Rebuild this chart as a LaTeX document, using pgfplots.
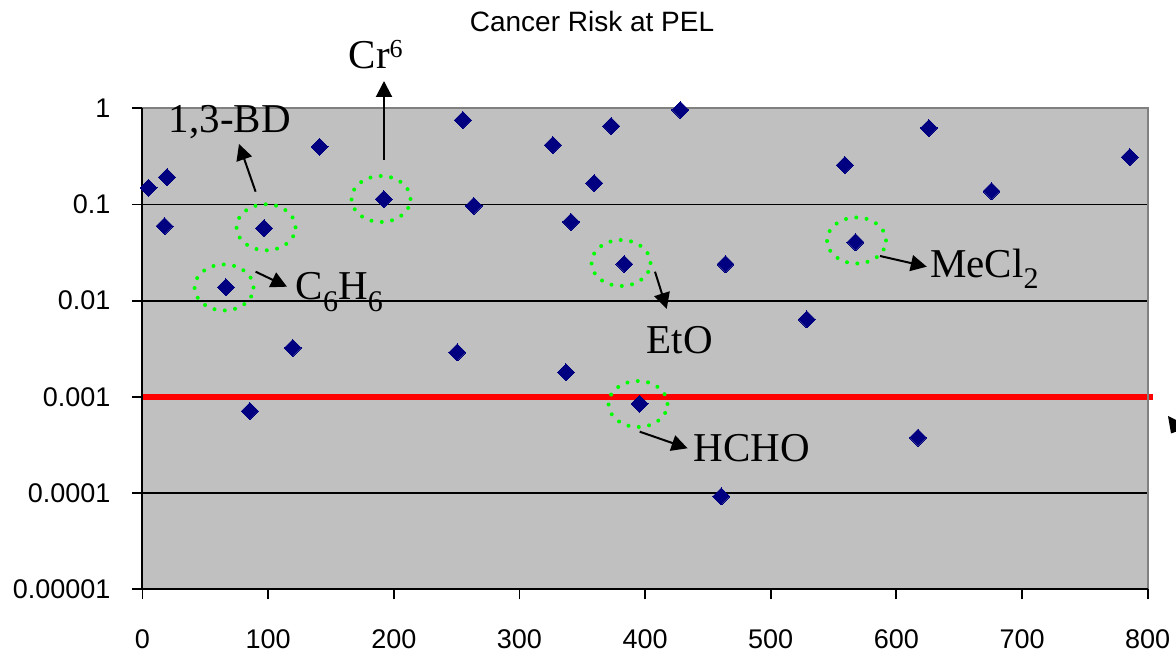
\documentclass[border=0pt]{standalone}
\usepackage{fontspec}
\setmainfont{Liberation Serif}
\newfontfamily\arial{Liberation Sans}
\usepackage{pgfplots}
\pgfplotsset{compat=1.18}
\usetikzlibrary{arrows.meta}
\definecolor{navyd}{RGB}{0,0,128}
\definecolor{excelgray}{RGB}{192,192,192}
\definecolor{bordergray}{RGB}{128,128,128}
\definecolor{limeg}{RGB}{0,255,0}
\newcommand\sub[1]{\raisebox{-5.8pt}{\fontsize{15pt}{15pt}\selectfont #1}}
\newcommand\sups[1]{\raisebox{5.6pt}{\fontsize{13pt}{13pt}\selectfont #1}}
\begin{document}
\begin{tikzpicture}
\begin{axis}[
  at={(0,0)}, anchor=south west,
  scale only axis, width=502.6pt, height=240.5pt,
  xmin=0, xmax=800, ymode=log, ymin=1e-5, ymax=1,
  xtick={0,100,200,300,400,500,600,700,800},
  xticklabels={0,100,200,300,400,500,600,700,800},
  ytick={1e-5,1e-4,1e-3,1e-2,1e-1,1},
  yticklabels={0.00001,0.0001,0.001,0.01,0.1,1},
  yminorticks=false,
  xtick pos=left, ytick pos=left,
  tick align=outside, major tick length=5pt,
  ymajorgrids, grid style={black, line width=0.9pt},
  axis background/.style={fill=excelgray},
  axis line style={draw=none},
  tick style={black, line width=0.9pt},
  ticklabel style={font=\arial\fontsize{13.5pt}{16pt}\selectfont},
  yticklabel style={xshift=-7.5pt},
  xticklabel style={yshift=-11.5pt},
  clip=false,
]
\addplot[only marks, mark=square*, mark size=3pt,
  mark options={rotate=45, fill=navyd, draw=navyd, line width=0pt}] table {
x y
4.8 0.149
19.5 0.193
17.6 0.0596
66.3 0.0138
85.5 0.000713
96.7 0.0568
119.6 0.00323
140.9 0.398
192 0.114
250.5 0.0029
255 0.755
263.6 0.0969
326.6 0.415
337 0.0018
341 0.066
359.5 0.167
373 0.654
383.5 0.024
395.6 0.00085
428 0.96
460.6 0.0000923
464 0.024
528.7 0.0064
559 0.257
567.4 0.0406
617.2 0.000377
625.9 0.624
675.7 0.138
785.7 0.311
};
\addplot[color={rgb,255:red,255;green,0;blue,0}, line width=2.65pt, mark=none] coordinates {(0,1e-3) (804,1e-3)};
\draw[bordergray, line width=1pt] (rel axis cs:0,1) -- (rel axis cs:1,1) -- (rel axis cs:1,0);
\draw[black, line width=1pt] (rel axis cs:0,1) -- (rel axis cs:0,0) -- (rel axis cs:1,0);
\end{axis}
\begin{scope}[xshift=-71.25pt, yshift=294.65pt, x=0.5pt, y=-0.5pt]
  \node[anchor=base, inner sep=0, font=\arial\fontsize{14pt}{16pt}\selectfont] at (592,31.7) {Cancer Risk at PEL};
  % dotted circles
  \foreach \cx/\cy in {224/287.5, 266/227.3, 381/199, 621/263, 856.5/240.5, 638/404}
    \draw[limeg, line width=2pt, line cap=round, dash pattern=on 0pt off 5.2pt] (\cx,\cy) ellipse [x radius=14.75pt, y radius=11.5pt];
  % arrows
  \begin{scope}[line width=1pt, -{Triangle[length=8pt,width=8pt]}]
    \draw (384,160) -- (384,81);
    \draw (255.6,191.7) -- (239,144);
    \draw (255.6,271.7) -- (287,286.7);
    \draw (655,271.7) -- (666.7,309);
    \draw (880,256) -- (926.8,266.7);
    \draw (639.7,431.7) -- (687.6,448.3);
  \end{scope}
  \fill (1168,416) -- (1178,421) -- (1178,431) -- (1171,433.5) -- cycle;
  % labels
  \begin{scope}[every node/.style={anchor=base west, inner sep=0, font=\fontsize{20.5pt}{24pt}\selectfont}]
    \node at (348.3,69) {Cr\sups{6}};
    \node at (168.4,132.7) {1,3-BD};
    \node at (295.4,300) {C\sub{6}H\sub{6}};
    \node at (646.5,353.3) {EtO};
    \node at (929.7,277.3) {MeCl\sub{2}};
    \node at (693.3,461.7) {HCHO};
  \end{scope}
  \pgfresetboundingbox
  \useasboundingbox (0,0) rectangle (1176,651);
\end{scope}
\end{tikzpicture}
\end{document}
